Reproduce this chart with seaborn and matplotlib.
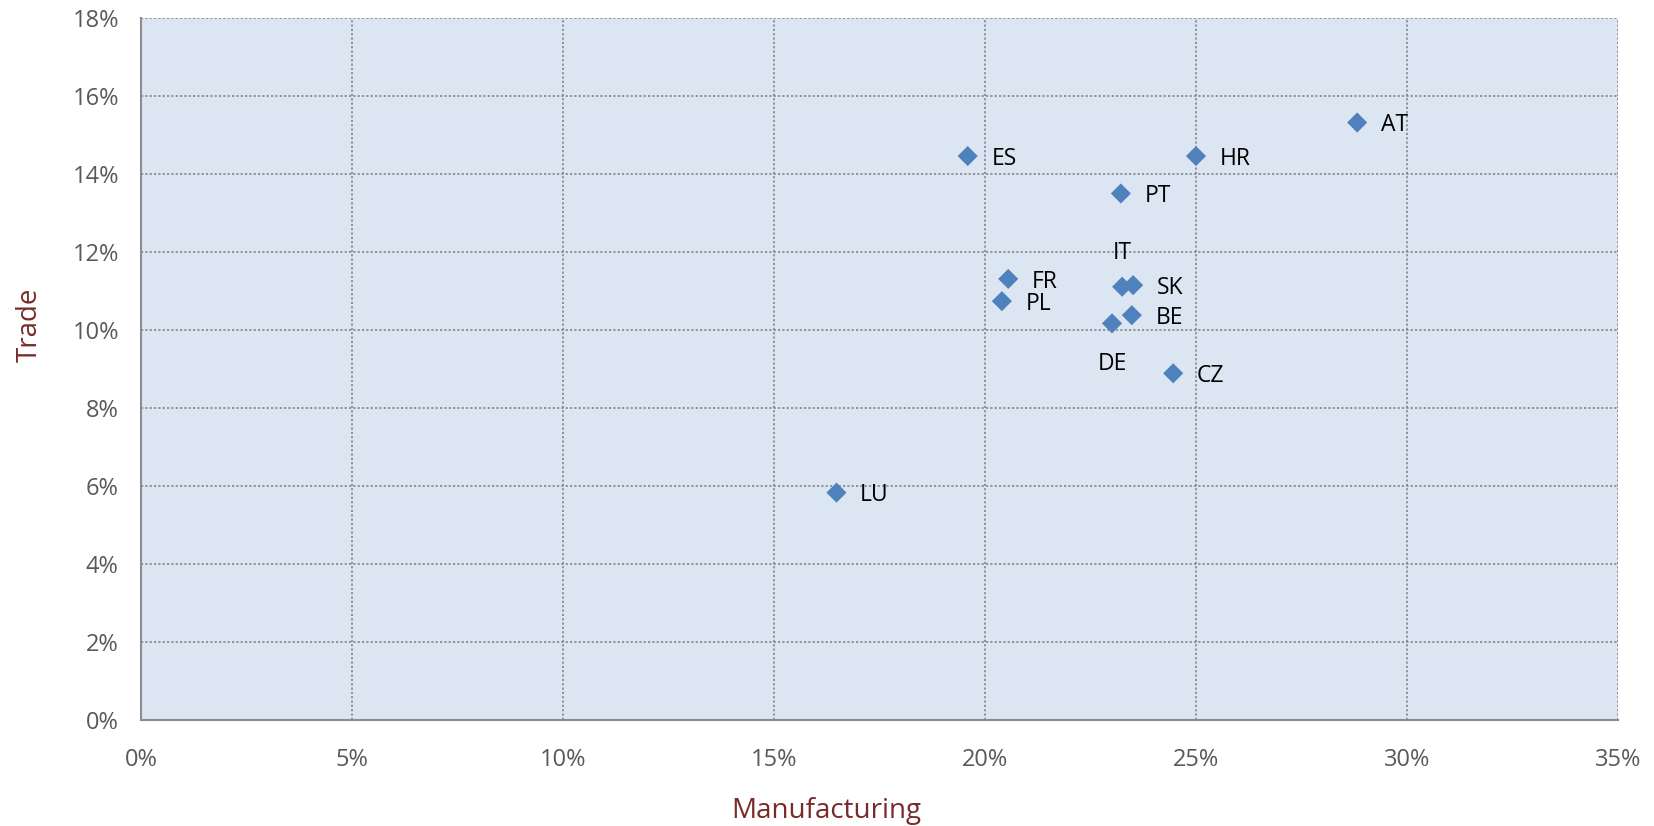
import matplotlib
matplotlib.use("Agg")
from matplotlib import pyplot as plt
from matplotlib.ticker import PercentFormatter, MultipleLocator
import pandas as pd
import seaborn as sns

countries = ["AT", "ES", "HR", "PT", "FR", "PL", "IT", "SK", "BE", "DE", "CZ", "LU"]
manufacturing = [28.82, 19.59, 25.00, 23.22, 20.55, 20.40, 23.25, 23.51, 23.48, 23.01, 24.46, 16.48]
trade = [15.32, 14.46, 14.46, 13.50, 11.31, 10.74, 11.11, 11.15, 10.38, 10.17, 8.89, 5.83]

df = pd.DataFrame({"country": countries, "Manufacturing": manufacturing, "Trade": trade})

sns.set_style("white")
plt.rcParams["font.family"] = ["Open Sans", "DejaVu Sans"]

fig = plt.figure(figsize=(16.54, 8.26), dpi=100)
ax = fig.add_axes([0.0853, 0.1283, 0.8929, 0.8499])
ax.set_facecolor("#DCE6F2")

sns.scatterplot(data=df, x="Manufacturing", y="Trade", marker="D", s=105,
                color="#4F81BD", edgecolor="none", ax=ax, zorder=3)

# label offsets (points) - IT sits above, DE below, others to the right
offsets = {"IT": (0, 24), "DE": (0, -29)}
for c, x, y in zip(countries, manufacturing, trade):
    dx, dy = offsets.get(c, (17, -2))
    ha = "center" if c in offsets else "left"
    ax.annotate(c, (x, y), xytext=(dx, dy), textcoords="offset points",
                ha=ha, va="center", fontsize=16.5, color="black")

ax.set_xlim(0, 35)
ax.set_ylim(0, 18)
ax.xaxis.set_major_locator(MultipleLocator(5))
ax.yaxis.set_major_locator(MultipleLocator(2))
ax.xaxis.set_major_formatter(PercentFormatter(decimals=0))
ax.yaxis.set_major_formatter(PercentFormatter(decimals=0))

ax.grid(True, linestyle=(0, (1.2, 1.2)), color="#8C8C8C", linewidth=1.3, zorder=1)
ax.set_axisbelow(True)
for side in ["top", "right"]:
    ax.spines[side].set_visible(False)
for side in ["left", "bottom"]:
    ax.spines[side].set_color("#8C8C8C")
    ax.spines[side].set_linewidth(1.5)

ax.tick_params(axis="both", direction="out", length=6, width=1.5, color="#8C8C8C",
               labelsize=17, labelcolor="#595959", pad=10)
ax.tick_params(axis="x", pad=14)

ax.set_xlabel("Manufacturing", fontsize=20, color="#772C2A")
ax.set_ylabel("Trade", fontsize=20, color="#772C2A")
ax.xaxis.set_label_coords(0.464, -0.110)
ax.yaxis.set_label_coords(-0.066, 0.563)

fig.savefig("out.png", dpi=100)
